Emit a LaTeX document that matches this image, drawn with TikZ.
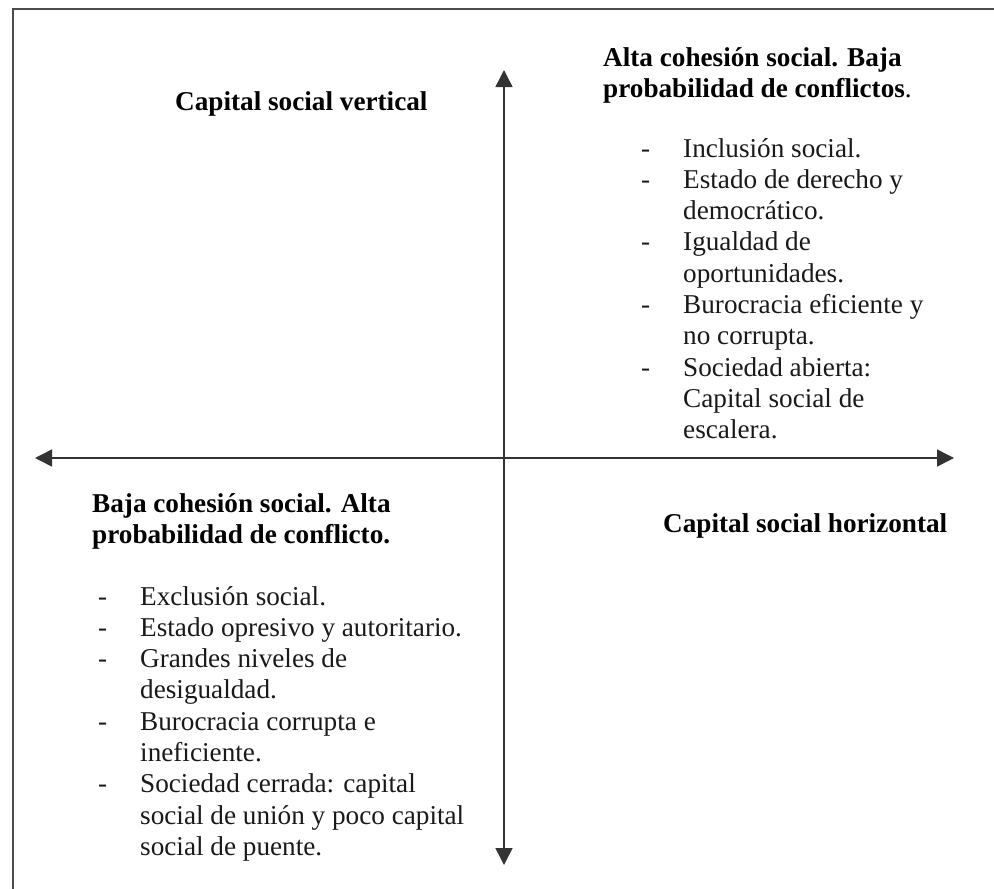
\documentclass[tikz,border=0pt]{standalone}
\usepackage{fontspec}
\setmainfont{Liberation Serif}
\usetikzlibrary{arrows.meta, positioning}
\def \bigfont {\fontsize{27.2}{31.3}\selectfont}

\begin{document}
\begin{tikzpicture}[
    x=1pt, y=-1pt,
    axislabel/.style={
        anchor=base west,
        inner sep=0pt,
        font=\bigfont\bfseries,
        text=black
    },
    quadhead/.style={
        anchor=base west,
        inner sep=0pt,
        font=\bigfont\bfseries,
        text=black
    },
    quadlist/.style={
        anchor=base west,
        inner sep=0pt,
        font=\bigfont,
        text=black!90
    },
    frame_line/.style={
        line width=1.1pt,
        draw=black!70
    },
    axis_arrow/.style={
        {Triangle[length=17pt, width=17pt]}-{Triangle[length=17pt, width=17pt]},
        line width=1.5pt,
        draw=black!80
    }
]

\useasboundingbox (0,0) rectangle (994,889);

% Frame (top and left edges only)
\coordinate (fbottom) at (13,889);
\coordinate (fcorner) at (13,9);
\coordinate (fright) at (994,9);
\draw[frame_line] (fbottom) -- (fcorner) -- (fright);

% Axis ends
\coordinate (ytop) at (504,70);
\coordinate (ybottom) at (504,865);
\coordinate (xleft) at (35,458);
\coordinate (xright) at (954,458);

% Axes
\draw[axis_arrow] (ybottom) -- (ytop);
\draw[axis_arrow] (xleft) -- (xright);

% Axis labels
\node[axislabel] (vlabel) at (175,110) {Capital social vertical};
\node[axislabel] (hlabel) at (663,532) {Capital social horizontal};

% Top right quadrant
\node[quadhead] (trhead) at (603,66) {\begin{tabular}[t]{@{}l@{}}
Alta cohesión social. Baja\\
probabilidad de conflictos{\mdseries .}
\end{tabular}};
\node[quadlist] (trlist) at (641,157) {\begin{tabular}[t]{@{}p{42pt}@{}l@{}}
- & Inclusión social.\\
- & Estado de derecho y\\
  & democrático.\\
- & Igualdad de\\
  & oportunidades.\\
- & Burocracia eficiente y\\
  & no corrupta.\\
- & Sociedad abierta:\\
  & Capital social de\\
  & escalera.
\end{tabular}};

% Bottom left quadrant
\node[quadhead] (blhead) at (92,512) {\begin{tabular}[t]{@{}l@{}}
Baja cohesión social. Alta\\
probabilidad de conflicto.
\end{tabular}};
\node[quadlist] (bllist) at (98,605) {\begin{tabular}[t]{@{}p{42pt}@{}l@{}}
- & Exclusión social.\\
- & Estado opresivo y autoritario.\\
- & Grandes niveles de\\
  & desigualdad.\\
- & Burocracia corrupta e\\
  & ineficiente.\\
- & Sociedad cerrada: capital\\
  & social de unión y poco capital\\
  & social de puente.
\end{tabular}};

\end{tikzpicture}
\end{document}
